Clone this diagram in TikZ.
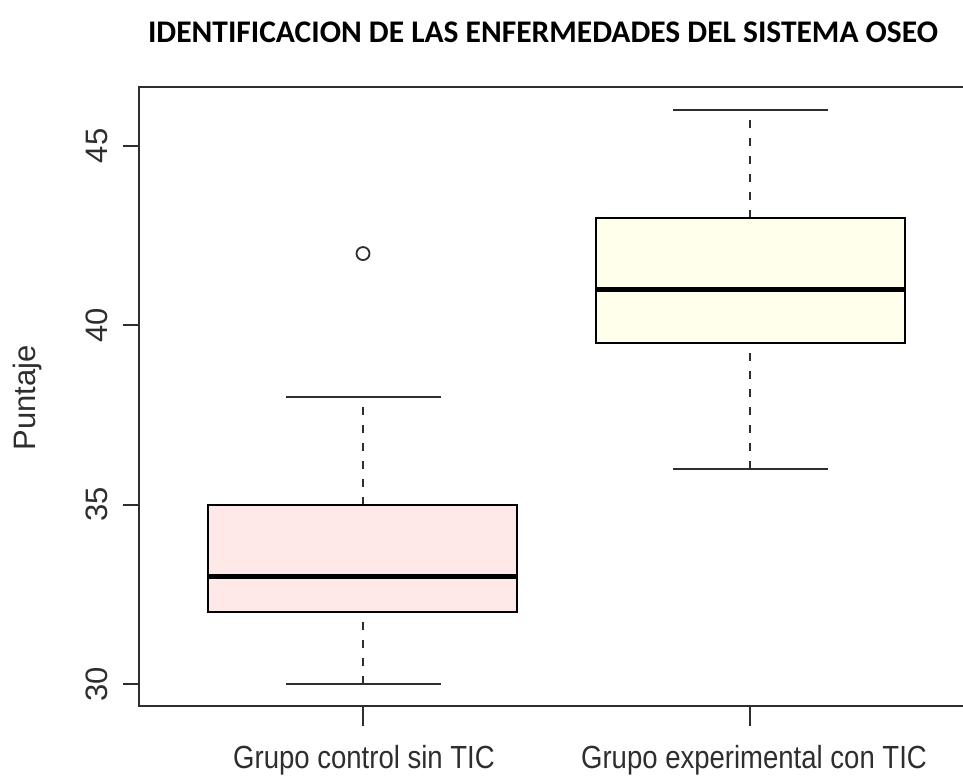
\documentclass[tikz,border=0pt]{standalone}
\usepackage{fontspec}
\setmainfont{Liberation Sans}
\newfontfamily\titlefont{Carlito}
\definecolor{rosebox}{HTML}{FFE8E8}
\definecolor{ivorybox}{HTML}{FFFFEB}
\definecolor{framegray}{HTML}{2E2E2E}
\newcommand{\narrow}[1]{\scalebox{0.86}[1]{#1}}

\begin{document}
\begin{tikzpicture}[x=1pt,y=-1pt,
    declare function={pts(\s)=684-(\s-30)*35.87;},
    frame/.style={draw=framegray,line width=2pt},
    boxbody/.style={draw=black,line width=1.8pt},
    medline/.style={draw=black,line width=5pt},
    whisk/.style={draw=framegray,line width=2pt,dash pattern=on 8pt off 10pt},
    staple/.style={draw=framegray,line width=1.8pt},
    ticklab/.style={font=\fontsize{31}{31}\selectfont,text=framegray,rotate=90},
    grplab/.style={font=\fontsize{32}{32}\selectfont,text=framegray}]

    \useasboundingbox (0,0) rectangle (963,782);

    % Title
    \node[font=\titlefont\bfseries\fontsize{31.5}{31.5}\selectfont] (title) at (543,32)
        {IDENTIFICACION DE LAS ENFERMEDADES DEL SISTEMA OSEO};

    % Frame
    \draw[frame] (963,87) -- (139,87) -- (139,706) -- (963,706);

    % Y axis
    \foreach \t in {30,35,40,45} {
        \draw[frame,line width=1.8pt] (123,{pts(\t)}) -- (139,{pts(\t)});
        \node[ticklab] (tick\t) at (97,{pts(\t)}) {\t};
    }
    \node[ticklab] (ylab) at (27,398) {Puntaje};

    % X axis
    \draw[frame,line width=1.8pt] (363,706) -- (363,726);
    \draw[frame,line width=1.8pt] (750,706) -- (750,726);
    \node[grplab] (control) at (364,760) {\narrow{Grupo control sin TIC}};
    \node[grplab] (experim) at (754,760) {\narrow{Grupo experimental con TIC}};

    % Grupo control
    \draw[whisk] (363,{pts(30)}) -- (363,{pts(32)});
    \draw[whisk] (363,{pts(35)}) -- (363,{pts(38)});
    \draw[staple] (286,{pts(30)}) -- (441,{pts(30)});
    \draw[staple] (286,{pts(38)}) -- (441,{pts(38)});
    \filldraw[boxbody,fill=rosebox] (208,{pts(32)}) rectangle (517,{pts(35)});
    \draw[medline] (208,{pts(33)}) -- (517,{pts(33)});
    \draw[staple] (363,{pts(42)}) circle (6.5);

    % Grupo experimental
    \draw[whisk] (750,{pts(36)}) -- (750,{pts(39.5)});
    \draw[whisk] (750,{pts(43)}) -- (750,{pts(46)});
    \draw[staple] (673,{pts(36)}) -- (828,{pts(36)});
    \draw[staple] (673,{pts(46)}) -- (828,{pts(46)});
    \filldraw[boxbody,fill=ivorybox] (596,{pts(39.5)}) rectangle (905,{pts(43)});
    \draw[medline] (596,{pts(41)}) -- (905,{pts(41)});

\end{tikzpicture}
\end{document}
